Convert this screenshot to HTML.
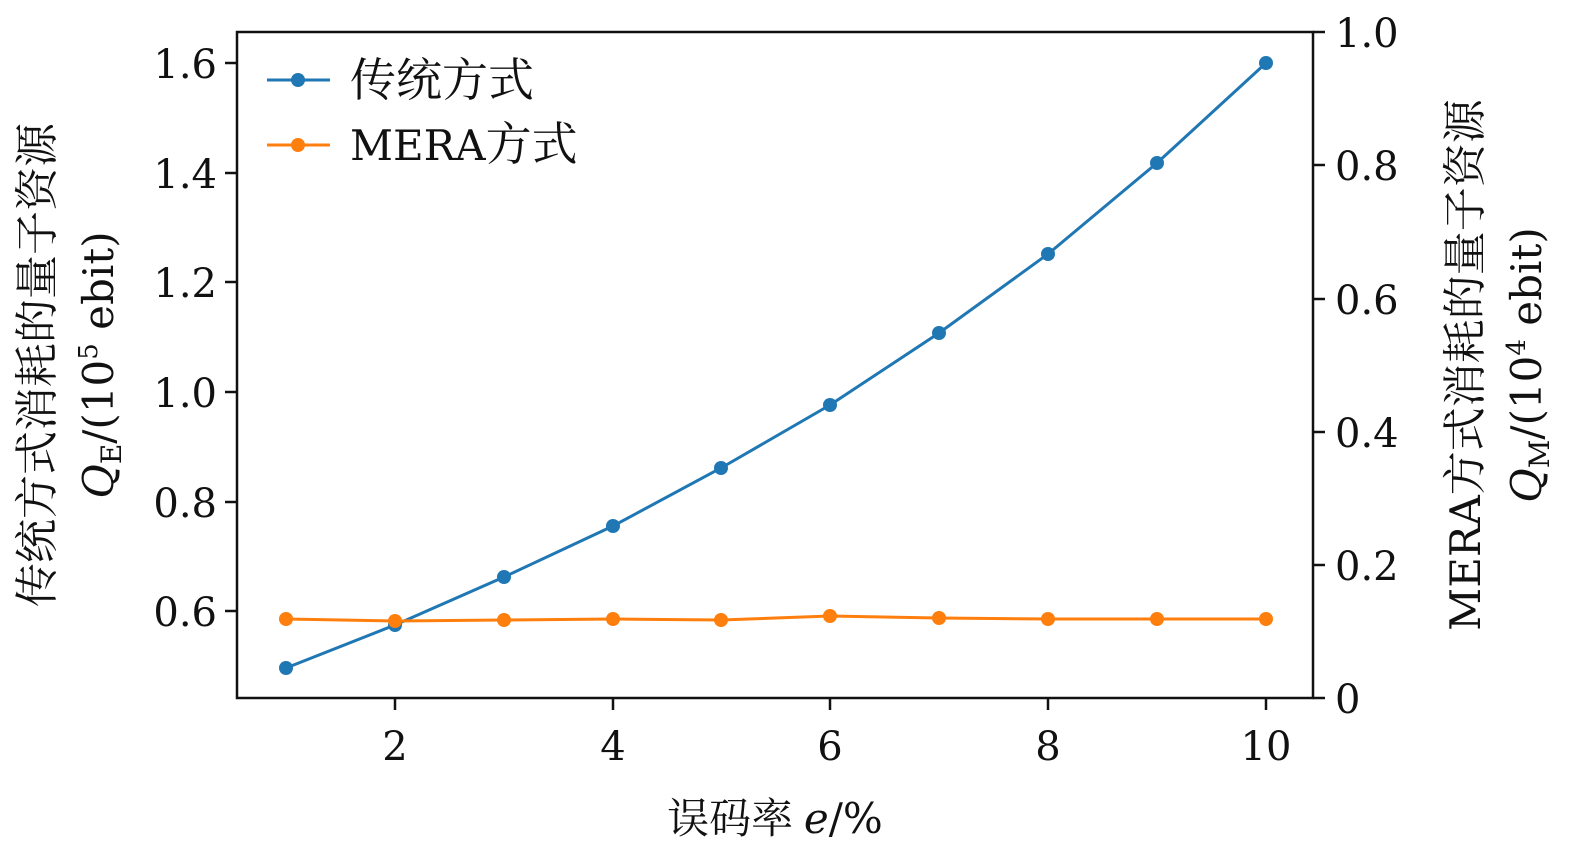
<!DOCTYPE html>
<html><head><meta charset="utf-8"><style>
body{margin:0;background:#fff;}
svg text{font-family:"DejaVu Serif","Noto Serif CJK SC",serif;fill:#111;}
svg .cjk{font-family:"Noto Serif CJK SC","DejaVu Serif",serif;}
</style></head><body>
<svg width="1575" height="856" xmlns="http://www.w3.org/2000/svg">
<rect x="237" y="32" width="1076" height="666" fill="none" stroke="#111" stroke-width="2.5"/>
<g stroke="#111" stroke-width="2.5">
<line x1="395" y1="698" x2="395" y2="710"/><line x1="613" y1="698" x2="613" y2="710"/><line x1="830" y1="698" x2="830" y2="710"/><line x1="1048" y1="698" x2="1048" y2="710"/><line x1="1266" y1="698" x2="1266" y2="710"/>
<line x1="225" y1="63" x2="237" y2="63"/><line x1="225" y1="173" x2="237" y2="173"/><line x1="225" y1="282" x2="237" y2="282"/><line x1="225" y1="392" x2="237" y2="392"/><line x1="225" y1="502" x2="237" y2="502"/><line x1="225" y1="611" x2="237" y2="611"/>
<line x1="1313" y1="32" x2="1325" y2="32"/><line x1="1313" y1="165" x2="1325" y2="165"/><line x1="1313" y1="299" x2="1325" y2="299"/><line x1="1313" y1="432" x2="1325" y2="432"/><line x1="1313" y1="565" x2="1325" y2="565"/><line x1="1313" y1="698" x2="1325" y2="698"/>
</g>
<g font-size="40" text-anchor="middle">
<text x="395" y="760">2</text><text x="613" y="760">4</text><text x="830" y="760">6</text><text x="1048" y="760">8</text><text x="1266" y="760">10</text>
</g>
<g font-size="40" text-anchor="end">
<text x="217" y="78">1.6</text><text x="217" y="188">1.4</text><text x="217" y="297">1.2</text><text x="217" y="407">1.0</text><text x="217" y="517">0.8</text><text x="217" y="626">0.6</text>
</g>
<g font-size="40" text-anchor="start">
<text x="1335" y="47">1.0</text><text x="1335" y="180">0.8</text><text x="1335" y="314">0.6</text><text x="1335" y="447">0.4</text><text x="1335" y="580">0.2</text><text x="1335" y="713">0</text>
</g>
<text x="775" y="833" font-size="42" text-anchor="middle"><tspan class="cjk">误码率 </tspan><tspan font-style="italic">e</tspan>/%</text>
<g transform="translate(52,365) rotate(-90)"><text class="cjk" font-size="44" text-anchor="middle">传统方式消耗的量子资源</text></g>
<g transform="translate(113,365) rotate(-90)"><text font-size="42" text-anchor="middle"><tspan font-style="italic">Q</tspan><tspan font-size="28" dy="8">E</tspan><tspan dy="-8">/(10</tspan><tspan font-size="26" dy="-16">5</tspan><tspan dy="16"> ebit)</tspan></text></g>
<g transform="translate(1480,365) rotate(-90)"><text font-size="42" text-anchor="middle">MERA<tspan class="cjk" font-size="44">方式消耗的量子资源</tspan></text></g>
<g transform="translate(1541,365) rotate(-90)"><text font-size="42" text-anchor="middle"><tspan font-style="italic">Q</tspan><tspan font-size="28" dy="8">M</tspan><tspan dy="-8">/(10</tspan><tspan font-size="26" dy="-16">4</tspan><tspan dy="16"> ebit)</tspan></text></g>
<polyline fill="none" stroke="#1f77b4" stroke-width="3" points="286,668 395,625 504,577 613,526 721,468 830,405 939,333 1048,254 1157,163 1266,63"/>
<g fill="#1f77b4"><circle cx="286" cy="668" r="7"/><circle cx="395" cy="625" r="7"/><circle cx="504" cy="577" r="7"/><circle cx="613" cy="526" r="7"/><circle cx="721" cy="468" r="7"/><circle cx="830" cy="405" r="7"/><circle cx="939" cy="333" r="7"/><circle cx="1048" cy="254" r="7"/><circle cx="1157" cy="163" r="7"/><circle cx="1266" cy="63" r="7"/></g>
<polyline fill="none" stroke="#ff7f0e" stroke-width="3" points="286,619 395,621 504,620 613,619 721,620 830,616 939,618 1048,619 1157,619 1266,619"/>
<g fill="#ff7f0e"><circle cx="286" cy="619" r="7"/><circle cx="395" cy="621" r="7"/><circle cx="504" cy="620" r="7"/><circle cx="613" cy="619" r="7"/><circle cx="721" cy="620" r="7"/><circle cx="830" cy="616" r="7"/><circle cx="939" cy="618" r="7"/><circle cx="1048" cy="619" r="7"/><circle cx="1157" cy="619" r="7"/><circle cx="1266" cy="619" r="7"/></g>
<line x1="267" y1="80" x2="330" y2="80" stroke="#1f77b4" stroke-width="3"/><circle cx="298" cy="80" r="7" fill="#1f77b4"/>
<line x1="267" y1="145" x2="330" y2="145" stroke="#ff7f0e" stroke-width="3"/><circle cx="298" cy="145" r="7" fill="#ff7f0e"/>
<text class="cjk" x="350" y="96" font-size="46">传统方式</text>
<text x="350" y="160" font-size="42">MERA<tspan class="cjk" font-size="46">方式</tspan></text>
</svg>
</body></html>
